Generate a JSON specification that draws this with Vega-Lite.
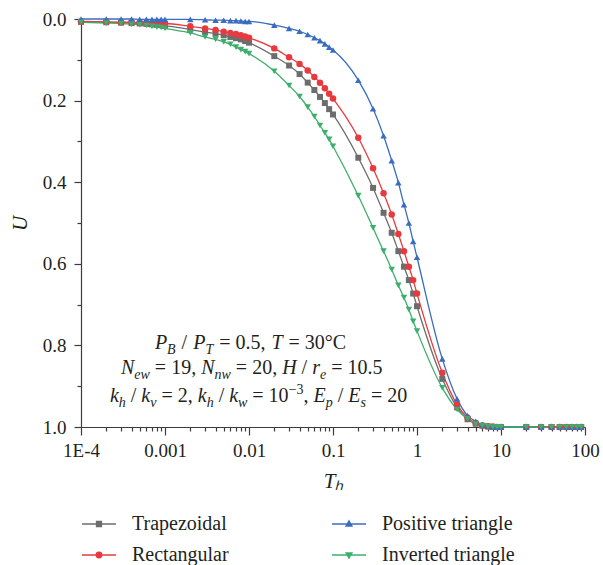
{
  "$schema": "https://vega.github.io/schema/vega-lite/v6.json",
  "width": 504,
  "height": 408,
  "autosize": {"type": "none"},
  "padding": {"left": 81, "top": 19, "right": 18, "bottom": 138},
  "background": "white",
  "config": {
    "view": {"stroke": null},
    "axis": {
      "grid": false,
      "labelFont": "Liberation Serif",
      "labelFontSize": 19,
      "labelColor": "#231f20",
      "titleFont": "Liberation Serif",
      "titleColor": "#231f20",
      "titleFontWeight": "normal",
      "titleFontSize": 21,
      "domainColor": "#3c3c3c",
      "tickColor": "#3c3c3c",
      "domainWidth": 1.2,
      "tickWidth": 1.2,
      "labelOverlap": false,
      "labelFlush": false
    },
    "text": {"font": "Liberation Serif", "fontSize": 20, "align": "left", "baseline": "alphabetic", "color": "#231f20"}
  },
  "layer": [
    {
      "data": {"values": [
        {"t": 0.0001, "Trapezoidal": 0.007, "Rectangular": 0.006, "Positive triangle": 0.0, "Inverted triangle": 0.008},
        {"t": 0.0002, "Trapezoidal": 0.008, "Rectangular": 0.007, "Positive triangle": 0.0, "Inverted triangle": 0.010},
        {"t": 0.0003, "Trapezoidal": 0.009, "Rectangular": 0.008, "Positive triangle": 0.0, "Inverted triangle": 0.011},
        {"t": 0.0004, "Trapezoidal": 0.010, "Rectangular": 0.008, "Positive triangle": 0.0, "Inverted triangle": 0.013},
        {"t": 0.0005, "Trapezoidal": 0.011, "Rectangular": 0.009, "Positive triangle": 0.001, "Inverted triangle": 0.014},
        {"t": 0.0006, "Trapezoidal": 0.012, "Rectangular": 0.009, "Positive triangle": 0.001, "Inverted triangle": 0.016},
        {"t": 0.0007, "Trapezoidal": 0.013, "Rectangular": 0.010, "Positive triangle": 0.001, "Inverted triangle": 0.018},
        {"t": 0.0008, "Trapezoidal": 0.014, "Rectangular": 0.010, "Positive triangle": 0.001, "Inverted triangle": 0.020},
        {"t": 0.0009, "Trapezoidal": 0.015, "Rectangular": 0.011, "Positive triangle": 0.001, "Inverted triangle": 0.021},
        {"t": 0.001, "Trapezoidal": 0.016, "Rectangular": 0.011, "Positive triangle": 0.001, "Inverted triangle": 0.023},
        {"t": 0.002, "Trapezoidal": 0.026, "Rectangular": 0.018, "Positive triangle": 0.001, "Inverted triangle": 0.034},
        {"t": 0.003, "Trapezoidal": 0.032, "Rectangular": 0.023, "Positive triangle": 0.002, "Inverted triangle": 0.044},
        {"t": 0.004, "Trapezoidal": 0.036, "Rectangular": 0.027, "Positive triangle": 0.003, "Inverted triangle": 0.050},
        {"t": 0.005, "Trapezoidal": 0.040, "Rectangular": 0.031, "Positive triangle": 0.003, "Inverted triangle": 0.056},
        {"t": 0.006, "Trapezoidal": 0.044, "Rectangular": 0.034, "Positive triangle": 0.004, "Inverted triangle": 0.062},
        {"t": 0.007, "Trapezoidal": 0.047, "Rectangular": 0.037, "Positive triangle": 0.004, "Inverted triangle": 0.069},
        {"t": 0.008, "Trapezoidal": 0.050, "Rectangular": 0.040, "Positive triangle": 0.005, "Inverted triangle": 0.075},
        {"t": 0.009, "Trapezoidal": 0.054, "Rectangular": 0.043, "Positive triangle": 0.006, "Inverted triangle": 0.080},
        {"t": 0.01, "Trapezoidal": 0.058, "Rectangular": 0.046, "Positive triangle": 0.006, "Inverted triangle": 0.085},
        {"t": 0.02, "Trapezoidal": 0.091, "Rectangular": 0.072, "Positive triangle": 0.015, "Inverted triangle": 0.128},
        {"t": 0.03, "Trapezoidal": 0.114, "Rectangular": 0.094, "Positive triangle": 0.023, "Inverted triangle": 0.163},
        {"t": 0.04, "Trapezoidal": 0.135, "Rectangular": 0.110, "Positive triangle": 0.030, "Inverted triangle": 0.190},
        {"t": 0.05, "Trapezoidal": 0.156, "Rectangular": 0.126, "Positive triangle": 0.038, "Inverted triangle": 0.216},
        {"t": 0.06, "Trapezoidal": 0.174, "Rectangular": 0.142, "Positive triangle": 0.046, "Inverted triangle": 0.239},
        {"t": 0.07, "Trapezoidal": 0.191, "Rectangular": 0.156, "Positive triangle": 0.053, "Inverted triangle": 0.261},
        {"t": 0.08, "Trapezoidal": 0.206, "Rectangular": 0.170, "Positive triangle": 0.061, "Inverted triangle": 0.279},
        {"t": 0.09, "Trapezoidal": 0.221, "Rectangular": 0.183, "Positive triangle": 0.069, "Inverted triangle": 0.295},
        {"t": 0.1, "Trapezoidal": 0.234, "Rectangular": 0.195, "Positive triangle": 0.076, "Inverted triangle": 0.312},
        {"t": 0.2, "Trapezoidal": 0.340, "Rectangular": 0.291, "Positive triangle": 0.150, "Inverted triangle": 0.433},
        {"t": 0.3, "Trapezoidal": 0.414, "Rectangular": 0.366, "Positive triangle": 0.220, "Inverted triangle": 0.512},
        {"t": 0.4, "Trapezoidal": 0.475, "Rectangular": 0.427, "Positive triangle": 0.286, "Inverted triangle": 0.569},
        {"t": 0.5, "Trapezoidal": 0.524, "Rectangular": 0.479, "Positive triangle": 0.347, "Inverted triangle": 0.614},
        {"t": 0.6, "Trapezoidal": 0.569, "Rectangular": 0.527, "Positive triangle": 0.401, "Inverted triangle": 0.653},
        {"t": 0.7, "Trapezoidal": 0.607, "Rectangular": 0.569, "Positive triangle": 0.455, "Inverted triangle": 0.683},
        {"t": 0.8, "Trapezoidal": 0.640, "Rectangular": 0.607, "Positive triangle": 0.500, "Inverted triangle": 0.712},
        {"t": 0.9, "Trapezoidal": 0.673, "Rectangular": 0.640, "Positive triangle": 0.545, "Inverted triangle": 0.741},
        {"t": 1, "Trapezoidal": 0.704, "Rectangular": 0.673, "Positive triangle": 0.584, "Inverted triangle": 0.765},
        {"t": 2, "Trapezoidal": 0.882, "Rectangular": 0.867, "Positive triangle": 0.833, "Inverted triangle": 0.904},
        {"t": 3, "Trapezoidal": 0.952, "Rectangular": 0.945, "Positive triangle": 0.931, "Inverted triangle": 0.957},
        {"t": 4, "Trapezoidal": 0.981, "Rectangular": 0.977, "Positive triangle": 0.972, "Inverted triangle": 0.980},
        {"t": 5, "Trapezoidal": 0.992, "Rectangular": 0.990, "Positive triangle": 0.986, "Inverted triangle": 0.993},
        {"t": 6, "Trapezoidal": 0.997, "Rectangular": 0.996, "Positive triangle": 0.994, "Inverted triangle": 0.997},
        {"t": 7, "Trapezoidal": 0.999, "Rectangular": 0.998, "Positive triangle": 0.997, "Inverted triangle": 0.999},
        {"t": 8, "Trapezoidal": 1.0, "Rectangular": 0.999, "Positive triangle": 0.999, "Inverted triangle": 1.0},
        {"t": 9, "Trapezoidal": 1.0, "Rectangular": 1.0, "Positive triangle": 1.0, "Inverted triangle": 1.0},
        {"t": 10, "Trapezoidal": 1.0, "Rectangular": 1.0, "Positive triangle": 1.0, "Inverted triangle": 1.0},
        {"t": 20, "Trapezoidal": 1.0, "Rectangular": 1.0, "Positive triangle": 1.0, "Inverted triangle": 1.0},
        {"t": 30, "Trapezoidal": 1.0, "Rectangular": 1.0, "Positive triangle": 1.0, "Inverted triangle": 1.0},
        {"t": 40, "Trapezoidal": 1.0, "Rectangular": 1.0, "Positive triangle": 1.0, "Inverted triangle": 1.0},
        {"t": 50, "Trapezoidal": 1.0, "Rectangular": 1.0, "Positive triangle": 1.0, "Inverted triangle": 1.0},
        {"t": 60, "Trapezoidal": 1.0, "Rectangular": 1.0, "Positive triangle": 1.0, "Inverted triangle": 1.0},
        {"t": 70, "Trapezoidal": 1.0, "Rectangular": 1.0, "Positive triangle": 1.0, "Inverted triangle": 1.0},
        {"t": 80, "Trapezoidal": 1.0, "Rectangular": 1.0, "Positive triangle": 1.0, "Inverted triangle": 1.0},
        {"t": 90, "Trapezoidal": 1.0, "Rectangular": 1.0, "Positive triangle": 1.0, "Inverted triangle": 1.0}
      ]},
      "transform": [{"fold": ["Trapezoidal", "Rectangular", "Positive triangle", "Inverted triangle"], "as": ["s", "u"]}],
      "encoding": {
        "x": {
          "field": "t", "type": "quantitative",
          "scale": {"type": "log", "domain": [0.0001, 100], "nice": false},
          "axis": {
            "title": "Tₕ",
            "titleFontStyle": "italic",
            "titlePadding": 10,
            "labelPadding": 6,
            "values": [0.0001,0.0002,0.0003,0.0004,0.0005,0.0006,0.0007,0.0008,0.0009,0.001,0.002,0.003,0.004,0.005,0.006,0.007,0.008,0.009,0.01,0.02,0.03,0.04,0.05,0.06,0.07,0.08,0.09,0.1,0.2,0.3,0.4,0.5,0.6,0.7,0.8,0.9,1,2,3,4,5,6,7,8,9,10,20,30,40,50,60,70,80,90,100],
            "labelExpr": "datum.value == 0.0001 ? '1E-4' : (indexof([0.001,0.01,0.1,1,10,100], datum.value) >= 0 ? '' + datum.value : '')",
            "tickSize": {"condition": {"test": "indexof([0.0001,0.001,0.01,0.1,1,10,100], datum.value) >= 0", "value": 8}, "value": 4}
          }
        },
        "y": {
          "field": "u", "type": "quantitative",
          "scale": {"domain": [0, 1], "reverse": true, "nice": false, "zero": false},
          "axis": {
            "title": "U",
            "titleFontStyle": "italic",
            "titlePadding": 12,
            "labelPadding": 8,
            "values": [0,0.1,0.2,0.3,0.4,0.5,0.6,0.7,0.8,0.9,1],
            "labelExpr": "indexof([0,0.2,0.4,0.6,0.8,1], datum.value) >= 0 ? format(datum.value, '.1f') : ''",
            "tickSize": {"condition": {"test": "indexof([0,0.2,0.4,0.6,0.8,1], datum.value) >= 0", "value": 7}, "value": 4}
          }
        },
        "color": {
          "field": "s", "type": "nominal",
          "scale": {"domain": ["Trapezoidal", "Rectangular", "Positive triangle", "Inverted triangle"], "range": ["#6d6d6d", "#e83a3e", "#3a6cc0", "#3caf6c"]},
          "legend": {
            "orient": "none", "legendX": 7, "legendY": 494, "columns": 2, "columnPadding": 100, "rowPadding": 10,
            "title": null, "padding": 0,
            "labelFont": "Liberation Serif", "labelFontSize": 20, "labelColor": "#231f20", "labelOffset": 22, "labelLimit": 0,
            "symbolSize": 400, "symbolStrokeWidth": 1.5,
            "encode": {"symbols": {"update": {
              "shape": {"signal": "datum.value === 'Trapezoidal' ? 'M-1.7,0H1.7M-0.24,-0.24H0.24V0.24H-0.24Z' : datum.value === 'Rectangular' ? 'M-1.7,0H1.7M-0.27,0A0.27,0.27 0 1 0 0.27,0A0.27,0.27 0 1 0 -0.27,0Z' : datum.value === 'Positive triangle' ? 'M-1.7,0H1.7M0,-0.3L0.28,0.2H-0.28Z' : 'M-1.7,0H1.7M0,0.3L0.28,-0.2H-0.28Z'"},
              "stroke": {"signal": "scale('color', datum.value)"},
              "fill": {"signal": "scale('color', datum.value)"},
              "strokeWidth": {"value": 1.5},
              "opacity": {"value": 1}
            }}}
          }
        }
      },
      "layer": [
        {"mark": {"type": "line", "interpolate": "monotone", "strokeWidth": 1.3}},
        {"transform": [{"filter": "datum.s === 'Trapezoidal'"}], "mark": {"type": "point", "shape": "square", "filled": true, "opacity": 1, "size": 36}},
        {"transform": [{"filter": "datum.s === 'Rectangular'"}], "mark": {"type": "point", "shape": "circle", "filled": true, "opacity": 1, "size": 42}},
        {"transform": [{"filter": "datum.s === 'Positive triangle'"}], "mark": {"type": "point", "shape": "triangle-up", "filled": true, "opacity": 1, "size": 42}},
        {"transform": [{"filter": "datum.s === 'Inverted triangle'"}], "mark": {"type": "point", "shape": "triangle-down", "filled": true, "opacity": 1, "size": 42}}
      ]
    },
    {
      "data": {"values": [{}]},
      "encoding": {"x": {"datum": 0.00076}, "y": {"datum": 0.809}},
      "layer": [
        {"mark": {"type": "text", "text": "P", "fontStyle": "italic", "dx": 0}},
        {"mark": {"type": "text", "text": "B", "fontStyle": "italic", "fontSize": 14, "dx": 12, "dy": 5}},
        {"mark": {"type": "text", "text": "/", "dx": 26.6}},
        {"mark": {"type": "text", "text": "P", "fontStyle": "italic", "dx": 38.2}},
        {"mark": {"type": "text", "text": "T", "fontStyle": "italic", "fontSize": 14, "dx": 50.4, "dy": 5}},
        {"mark": {"type": "text", "text": "= 0.5,", "dx": 64.2}},
        {"mark": {"type": "text", "text": "T", "fontStyle": "italic", "dx": 116.5}},
        {"mark": {"type": "text", "text": "= 30°C", "dx": 133.6}}
      ]
    },
    {
      "data": {"values": [{}]},
      "encoding": {"x": {"datum": 0.000299}, "y": {"datum": 0.870}},
      "layer": [
        {"mark": {"type": "text", "text": "N", "fontStyle": "italic", "dx": 0}},
        {"mark": {"type": "text", "text": "ew", "fontStyle": "italic", "fontSize": 14, "dx": 13.3, "dy": 5}},
        {"mark": {"type": "text", "text": "= 19,", "dx": 33.9}},
        {"mark": {"type": "text", "text": "N", "fontStyle": "italic", "dx": 80.2}},
        {"mark": {"type": "text", "text": "nw", "fontStyle": "italic", "fontSize": 14, "dx": 93.5, "dy": 5}},
        {"mark": {"type": "text", "text": "= 20,", "dx": 114.9}},
        {"mark": {"type": "text", "text": "H", "fontStyle": "italic", "dx": 161.2}},
        {"mark": {"type": "text", "text": "/", "dx": 180.6}},
        {"mark": {"type": "text", "text": "r", "fontStyle": "italic", "dx": 191.2}},
        {"mark": {"type": "text", "text": "e", "fontStyle": "italic", "fontSize": 14, "dx": 199, "dy": 5}},
        {"mark": {"type": "text", "text": "= 10.5", "dx": 210.2}}
      ]
    },
    {
      "data": {"values": [{}]},
      "encoding": {"x": {"datum": 0.000221}, "y": {"datum": 0.9375}},
      "layer": [
        {"mark": {"type": "text", "text": "k", "fontStyle": "italic", "dx": 0}},
        {"mark": {"type": "text", "text": "h", "fontStyle": "italic", "fontSize": 14, "dx": 8.9, "dy": 5}},
        {"mark": {"type": "text", "text": "/", "dx": 20.9}},
        {"mark": {"type": "text", "text": "k", "fontStyle": "italic", "dx": 31.4}},
        {"mark": {"type": "text", "text": "v", "fontStyle": "italic", "fontSize": 14, "dx": 40.3, "dy": 5}},
        {"mark": {"type": "text", "text": "= 2,", "dx": 51.5}},
        {"mark": {"type": "text", "text": "k", "fontStyle": "italic", "dx": 87.8}},
        {"mark": {"type": "text", "text": "h", "fontStyle": "italic", "fontSize": 14, "dx": 96.7, "dy": 5}},
        {"mark": {"type": "text", "text": "/", "dx": 108.7}},
        {"mark": {"type": "text", "text": "k", "fontStyle": "italic", "dx": 119.2}},
        {"mark": {"type": "text", "text": "w", "fontStyle": "italic", "fontSize": 14, "dx": 128.1, "dy": 5}},
        {"mark": {"type": "text", "text": "= 10", "dx": 142.4}},
        {"mark": {"type": "text", "text": "−3", "fontSize": 14, "dx": 178.7, "dy": -8}},
        {"mark": {"type": "text", "text": ",", "dx": 193.6}},
        {"mark": {"type": "text", "text": "E", "fontStyle": "italic", "dx": 203.6}},
        {"mark": {"type": "text", "text": "p", "fontStyle": "italic", "fontSize": 14, "dx": 215.8, "dy": 5}},
        {"mark": {"type": "text", "text": "/", "dx": 227.8}},
        {"mark": {"type": "text", "text": "E", "fontStyle": "italic", "dx": 238.4}},
        {"mark": {"type": "text", "text": "s", "fontStyle": "italic", "fontSize": 14, "dx": 250.6, "dy": 5}},
        {"mark": {"type": "text", "text": "= 20", "dx": 261.1}}
      ]
    }
  ]
}
